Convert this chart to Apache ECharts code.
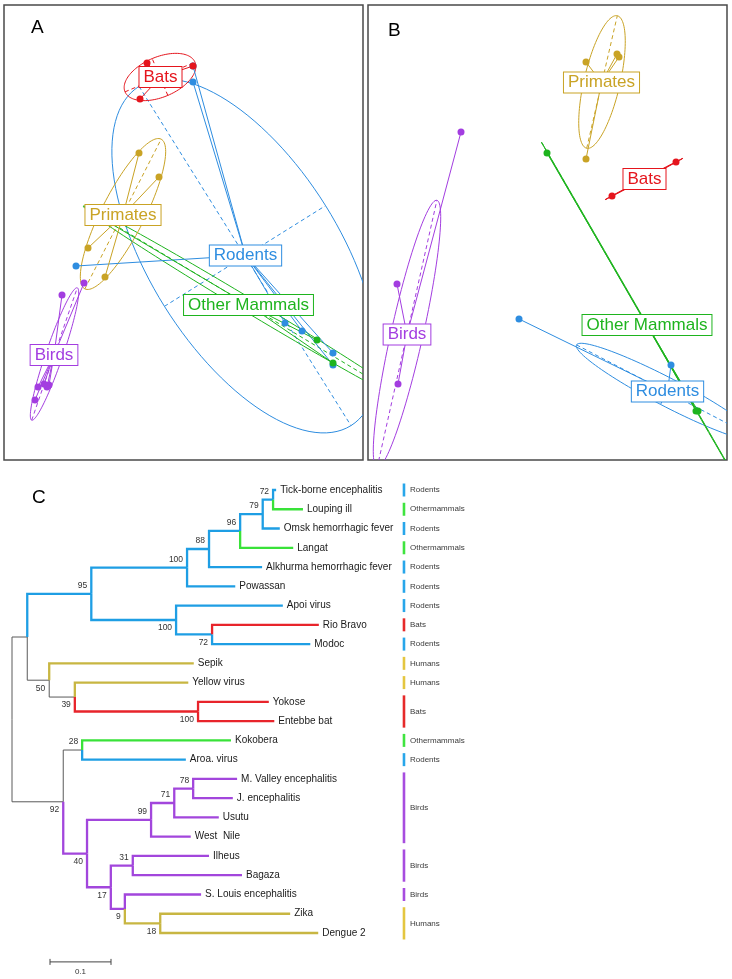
<!DOCTYPE html>
<html><head><meta charset="utf-8">
<script src="https://cdn.jsdelivr.net/npm/echarts@6/dist/echarts.min.js"></script>
<style>html,body{margin:0;padding:0;background:#fff}#c{width:732px;height:979px}</style>
</head><body><div id="c"></div>
<script>
// ================= DATA =================
// groups used in panels A and B
const groupNames  = ['Bats', 'Primates', 'Rodents', 'Other Mammals', 'Birds'];
const groupColors = ['#e5151d', '#c9a325', '#2e8de0', '#1eb41e', '#a33de0'];

// Panel A : points [x, y, group]  (listed in drawing order)
const pointsA = [
  [18.9,39.4,2],[18.9,37.8,2],[7.2,19.4,2],[28.1,13.7,2],[29.8,12.9,2],[32.9,10.7,2],[32.9,9.5,2],
  [8.9,24.7,3],[31.3,12.0,3],[32.9,9.7,3],
  [5.8,16.5,4],[8.0,17.7,4],[3.4,7.3,4],[4.3,7.3,4],[4.5,7.5,4],[3.1,6.0,4],[4.0,7.6,4],
  [13.5,30.7,1],[15.5,28.3,1],[8.4,21.2,1],[10.1,18.3,1],
  [14.3,39.7,0],[18.9,39.4,0],[13.6,36.1,0]
];
// Panel A : group centres (label positions), by group index
const centresA = [[15.65,38.3],[11.9,24.5],[24.15,20.45],[24.45,15.5],[5.0,10.5]];
// Panel A : ellipses [cx, cy, semi-major, semi-minor, angle(deg), group]
const ellipsesA = [
  [24.1,20.4,20.0,9.5,-58,2],
  [24.4,15.5,19.2,0.7,-31,3],
  [5.05,10.6,7.0,0.85,71,4],
  [11.9,24.6,8.4,2.15,63,1],
  [15.6,38.3,3.8,2.0,23,0]
];

// Panel B
const pointsB = [
  [15.1,14.1,2],[30.3,9.5,2],
  [17.9,30.7,3],[32.8,4.9,3],[33.0,4.9,3],
  [9.3,32.8,4],[2.9,17.6,4],[3.0,7.6,4],
  [21.8,39.8,1],[24.9,40.6,1],[21.8,30.1,1],[25.1,40.3,1],
  [30.8,29.8,0],[24.4,26.4,0]
];
const centresB = [[27.65,28.1],[23.35,37.75],[29.95,6.85],[27.9,13.5],[3.9,12.55]];
const ellipsesB = [
  [29.9,6.8,10.2,1.4,-27.5,2],
  [27.9,13.5,21.1,0.04,-60,3],
  [3.9,12.6,13.7,1.6,77.4,4],
  [23.4,37.8,6.8,1.8,77,1],
  [27.6,28.1,4.4,0.04,28,0]
];

// Panel C : tree nodes [id/name, parent, distance from root, bootstrap, branch host key]
const treeNodes = [
  ['root', null, 0, null, 'k'],
  ['n1', 'root', 0.025, null, 'k'],
  ['n95', 'n1', 0.130, 95, 'R'],
  ['n100a', 'n95', 0.287, 100, 'R'],
  ['n88', 'n100a', 0.323, 88, 'R'],
  ['n96', 'n88', 0.374, 96, 'R'],
  ['n79', 'n96', 0.411, 79, 'R'],
  ['n72a', 'n79', 0.428, 72, 'R'],
  ['Tick-borne encephalitis', 'n72a', 0.433, null, 'R'],
  ['Louping ill', 'n72a', 0.477, null, 'O'],
  ['Omsk hemorrhagic fever', 'n79', 0.439, null, 'R'],
  ['Langat', 'n96', 0.461, null, 'O'],
  ['Alkhurma hemorrhagic fever', 'n88', 0.410, null, 'R'],
  ['Powassan', 'n100a', 0.366, null, 'R'],
  ['n100b', 'n95', 0.269, 100, 'R'],
  ['Apoi virus', 'n100b', 0.444, null, 'R'],
  ['n72b', 'n100b', 0.328, 72, 'R'],
  ['Rio Bravo', 'n72b', 0.503, null, 'B'],
  ['Modoc', 'n72b', 0.489, null, 'R'],
  ['n50', 'n1', 0.061, 50, 'k'],
  ['Sepik', 'n50', 0.298, null, 'H'],
  ['n39', 'n50', 0.103, 39, 'k'],
  ['Yellow virus', 'n39', 0.289, null, 'H'],
  ['n100c', 'n39', 0.305, 100, 'B'],
  ['Yokose', 'n100c', 0.421, null, 'B'],
  ['Entebbe bat', 'n100c', 0.430, null, 'B'],
  ['n92', 'root', 0.084, 92, 'k'],
  ['n28', 'n92', 0.115, 28, 'k'],
  ['Kokobera', 'n28', 0.359, null, 'O'],
  ['Aroa. virus', 'n28', 0.285, null, 'R'],
  ['n40', 'n92', 0.123, 40, 'V'],
  ['n99', 'n40', 0.228, 99, 'V'],
  ['n71', 'n99', 0.266, 71, 'V'],
  ['n78', 'n71', 0.297, 78, 'V'],
  ['M. Valley encephalitis', 'n78', 0.369, null, 'V'],
  ['J. encephalitis', 'n78', 0.362, null, 'V'],
  ['Usutu', 'n71', 0.339, null, 'V'],
  ['West  Nile', 'n99', 0.293, null, 'V'],
  ['n17', 'n40', 0.162, 17, 'V'],
  ['n31', 'n17', 0.198, 31, 'V'],
  ['Ilheus', 'n31', 0.323, null, 'V'],
  ['Bagaza', 'n31', 0.377, null, 'V'],
  ['n9', 'n17', 0.185, 9, 'V'],
  ['S. Louis encephalitis', 'n9', 0.310, null, 'V'],
  ['n18', 'n9', 0.243, 18, 'H'],
  ['Zika', 'n18', 0.456, null, 'H'],
  ['Dengue 2', 'n18', 0.502, null, 'H']
];
const treeKeys   = ['k', 'R', 'O', 'B', 'H', 'V'];
const treeColors = ['#5a5a5a', '#1e9ee4', '#39e239', '#e8242b', '#c8b642', '#a246dc'];

// host annotation column: [first leaf row, last leaf row, host index]
const hostNames  = ['Rodents', 'Othermammals', 'Bats', 'Humans', 'Birds'];
const hostColors = ['#28a6ea', '#3fe43f', '#e62a2a', '#e4c640', '#a74ddf'];
const hostBlocks = [
  [0,0,0],[1,1,1],[2,2,0],[3,3,1],[4,4,0],[5,5,0],[6,6,0],[7,7,2],[8,8,0],
  [9,9,3],[10,10,3],[11,12,2],[13,13,1],[14,14,0],[15,18,4],[19,20,4],[21,21,4],[22,23,3]
];
const scaleBarLength = 0.1;
const scaleBarLabel = '0.1';

// ================= LAYOUT / STYLE CONSTANTS =================
const FONT = '"Liberation Sans", Arial, sans-serif';
const HOST_X = 0.6426;       // tree-axis x of host column
const SCALE_POS = [0.0623, 24.5];

// ================= TREE LAYOUT =================
const nodeMap = {};
treeNodes.forEach(n => nodeMap[n[0]] = {id:n[0], parent:n[1], depth:n[2], support:n[3], key:n[4], children:[]});
treeNodes.forEach(n => { if (n[1]) nodeMap[n[1]].children.push(nodeMap[n[0]]); });
let rowCounter = 0;
const leafList = [];
(function dfs(n){
  if (!n.children.length) { n.y = rowCounter++; leafList.push(n); return; }
  n.children.forEach(dfs);
  n.y = (n.children[0].y + n.children[n.children.length-1].y) / 2;
})(nodeMap.root);

const branchData = [], supportData = [], supportText = [];
treeNodes.forEach(n => {
  const node = nodeMap[n[0]];
  if (!node.parent) return;
  const par = nodeMap[node.parent];
  branchData.push([par.depth, node.depth, par.y, node.y, treeKeys.indexOf(node.key)]);
  if (node.support != null) {
    const upper = par.children[0] === node ? -1 : 1;
    supportData.push([node.depth, node.y, upper, supportText.length]);
    supportText.push(String(node.support));
  }
});
const leafData = leafList.map((n, i) => [n.depth, n.y, i]);

// ================= RENDERERS =================
function renderEllipse(params, api){
  const cx = api.value(0), cy = api.value(1), a = api.value(2), b = api.value(3);
  const ang = api.value(4) * Math.PI / 180, g = api.value(5);
  const ca = Math.cos(ang), sa = Math.sin(ang);
  const pts = [];
  for (let t = 0; t < 360; t += 3) {
    const r = t * Math.PI / 180, u = a * Math.cos(r), v = b * Math.sin(r);
    pts.push(api.coord([cx + u*ca - v*sa, cy + u*sa + v*ca]));
  }
  const m1 = api.coord([cx - a*ca, cy - a*sa]), m2 = api.coord([cx + a*ca, cy + a*sa]);
  const n1 = api.coord([cx + b*sa, cy - b*ca]), n2 = api.coord([cx - b*sa, cy + b*ca]);
  const col = groupColors[g];
  return {type:'group', children:[
    {type:'polygon', shape:{points:pts}, style:{fill:null, stroke:col, lineWidth:1}},
    {type:'line', shape:{x1:m1[0],y1:m1[1],x2:m2[0],y2:m2[1]}, style:{stroke:col, lineWidth:1, lineDash:[4,3]}},
    {type:'line', shape:{x1:n1[0],y1:n1[1],x2:n2[0],y2:n2[1]}, style:{stroke:col, lineWidth:1, lineDash:[4,3]}}
  ]};
}
function renderStar(params, api){
  const p = api.coord([api.value(0), api.value(1)]), c = api.coord([api.value(2), api.value(3)]);
  return {type:'line', shape:{x1:c[0],y1:c[1],x2:p[0],y2:p[1]}, style:{stroke:groupColors[api.value(4)], lineWidth:1}};
}
function renderLabel(params, api){
  const p = api.coord([api.value(0), api.value(1)]), g = api.value(2);
  return {type:'text', x:p[0], y:p[1], style:{text:groupNames[g], fill:groupColors[g],
    font:'17px ' + FONT, align:'center', verticalAlign:'middle',
    backgroundColor:'#fff', borderColor:groupColors[g], borderWidth:1, padding:[2,4,1,4]}};
}
function panelSeries(gi, points, centres, ellipses){
  const starData = points.map(p => [p[0], p[1], centres[p[2]][0], centres[p[2]][1], p[2]]);
  return [
    {type:'custom', xAxisIndex:gi, yAxisIndex:gi, clip:true, silent:true, z:2, data:ellipses, renderItem:renderEllipse},
    {type:'custom', xAxisIndex:gi, yAxisIndex:gi, clip:true, silent:true, z:3, data:starData, renderItem:renderStar},
    {type:'scatter', xAxisIndex:gi, yAxisIndex:gi, clip:true, silent:true, z:4, data:points, symbolSize:7,
      itemStyle:{opacity:1, color:p => groupColors[p.data[2]]}},
    {type:'custom', xAxisIndex:gi, yAxisIndex:gi, clip:false, silent:true, z:5,
      data:centres.map((c,i) => [c[0], c[1], i]), renderItem:renderLabel}
  ];
}

function renderBranch(params, api){
  const x0 = api.value(0), x1 = api.value(1), y0 = api.value(2), y1 = api.value(3), c = api.value(4);
  const p0 = api.coord([x0, y0]), p1 = api.coord([x0, y1]), p2 = api.coord([x1, y1]);
  return {type:'polyline', shape:{points:[p0,p1,p2]},
    style:{fill:null, stroke:treeColors[c], lineWidth: treeKeys[c] === 'k' ? 1 : 2.3, lineJoin:'miter'}};
}
function renderLeaf(params, api){
  const p = api.coord([api.value(0), api.value(1)]);
  return {type:'text', x:p[0] + 4, y:p[1], style:{text:leafList[api.value(2)].id, fill:'#1a1a1a',
    font:'10px ' + FONT, align:'left', verticalAlign:'middle'}};
}
function renderSupport(params, api){
  const p = api.coord([api.value(0), api.value(1)]);
  return {type:'text', x:p[0] - 4, y:p[1] + api.value(2) * 8, style:{text:supportText[api.value(3)], fill:'#333',
    font:'8.5px ' + FONT, align:'right', verticalAlign:'middle'}};
}
function renderHost(params, api){
  const x = api.coord([HOST_X, 0])[0];
  const y0 = api.coord([0, api.value(0)])[1] - 6.5, y1 = api.coord([0, api.value(1)])[1] + 6.5;
  const h = api.value(2);
  return {type:'group', children:[
    {type:'rect', shape:{x:x - 1.3, y:y0, width:2.6, height:y1 - y0}, style:{fill:hostColors[h]}},
    {type:'text', x:x + 6, y:(y0 + y1) / 2, style:{text:hostNames[h], fill:'#3a3a3a', font:'8px ' + FONT,
      align:'left', verticalAlign:'middle'}}
  ]};
}
function renderScale(params, api){
  const a = api.coord([api.value(0), api.value(1)]), b = api.coord([api.value(0) + api.value(2), api.value(1)]);
  return {type:'group', children:[
    {type:'line', shape:{x1:a[0],y1:a[1],x2:b[0],y2:b[1]}, style:{stroke:'#444', lineWidth:1}},
    {type:'line', shape:{x1:a[0],y1:a[1]-3,x2:a[0],y2:a[1]+3}, style:{stroke:'#444', lineWidth:1}},
    {type:'line', shape:{x1:b[0],y1:b[1]-3,x2:b[0],y2:b[1]+3}, style:{stroke:'#444', lineWidth:1}},
    {type:'text', x:(a[0] + b[0]) / 2, y:a[1] + 10, style:{text:scaleBarLabel, fill:'#333', font:'8px ' + FONT,
      align:'center', verticalAlign:'middle'}}
  ]};
}

// ================= CHART =================
const chart = echarts.init(document.getElementById('c'), null, {renderer:'canvas'});
const hiddenX = (gi, max) => ({type:'value', gridIndex:gi, min:0, max:max, show:false});
chart.setOption({
  animation:false,
  backgroundColor:'#fff',
  title:[
    {text:'A', left:31, top:18, padding:0, textStyle:{fontSize:19, fontWeight:'normal', color:'#000', fontFamily:FONT}},
    {text:'B', left:388, top:21, padding:0, textStyle:{fontSize:19, fontWeight:'normal', color:'#000', fontFamily:FONT}},
    {text:'C', left:32, top:488, padding:0, textStyle:{fontSize:19, fontWeight:'normal', color:'#000', fontFamily:FONT}}
  ],
  grid:[
    {left:4, top:5, width:359, height:455, show:true, borderColor:'#4a4a4a', borderWidth:1.5, backgroundColor:'#fff'},
    {left:368, top:5, width:359, height:455, show:true, borderColor:'#4a4a4a', borderWidth:1.5, backgroundColor:'#fff'},
    {left:12, top:490, width:610, height:443}
  ],
  xAxis:[hiddenX(0, 35.9), hiddenX(1, 35.9), hiddenX(2, 1)],
  yAxis:[hiddenX(0, 45.5), hiddenX(1, 45.5), Object.assign(hiddenX(2, 23), {inverse:true})],
  series:[
    ...panelSeries(0, pointsA, centresA, ellipsesA),
    ...panelSeries(1, pointsB, centresB, ellipsesB),
    {type:'custom', xAxisIndex:2, yAxisIndex:2, silent:true, z:2, data:branchData, renderItem:renderBranch},
    {type:'custom', xAxisIndex:2, yAxisIndex:2, silent:true, z:3, data:leafData, renderItem:renderLeaf},
    {type:'custom', xAxisIndex:2, yAxisIndex:2, silent:true, z:3, data:supportData, renderItem:renderSupport},
    {type:'custom', xAxisIndex:2, yAxisIndex:2, silent:true, z:3, data:hostBlocks, renderItem:renderHost},
    {type:'custom', xAxisIndex:2, yAxisIndex:2, silent:true, z:3, data:[[SCALE_POS[0], SCALE_POS[1], scaleBarLength]], renderItem:renderScale}
  ]
});
</script></body></html>
